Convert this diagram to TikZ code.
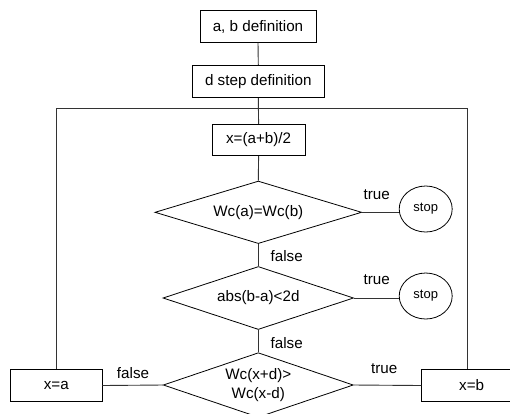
\documentclass[tikz,border=0pt]{standalone}
\usepackage{fontspec}
\setmainfont{Liberation Sans}
\usetikzlibrary{shapes.geometric}
\begin{document}
\begin{tikzpicture}[x=1pt,y=-1pt,
  every node/.style={font=\fontsize{15.2}{19.5}\selectfont},
  box/.style={draw, rectangle, inner sep=0pt, line width=0.8pt},
  dec/.style={draw, diamond, inner sep=0pt, line width=0.8pt, shape aspect=3, align=center},
  term/.style={draw, ellipse, inner sep=0pt, minimum width=53pt, minimum height=46pt, font=\fontsize{13}{15}\selectfont, line width=0.8pt},
  lbl/.style={inner sep=0pt},
  conn/.style={line width=0.9pt, draw=black!80}]
\useasboundingbox (0,0) rectangle (510,413);
\clip (0,0) rectangle (510,413);
\node[box, minimum width=116pt, minimum height=31.6pt] (ab) at (258,26.5) {a, b definition};
\node[box, minimum width=131.3pt, minimum height=32.4pt] (ds) at (258.3,81.5) {d step definition};
\node[box, minimum width=93.3pt, minimum height=31.4pt] (xm) at (258.6,140) {x=(a+b)/2};
\node[dec, minimum width=206.7pt, minimum height=62.5pt] (d1) at (258.3,212.3) {Wc(a)=Wc(b)};
\node[dec, minimum width=190.6pt, minimum height=63pt] (d2) at (258.3,298) {abs(b-a)<2d};
\node[dec, minimum width=190pt, minimum height=64.6pt] (d3) at (258.3,385) {Wc(x+d)>\\Wc(x-d)};
\node[term] (s1) at (425.7,209) {stop};
\node[term] (s2) at (425.7,296) {stop};
\node[box, minimum width=91.3pt, minimum height=32.4pt] (xa) at (56.3,385.5) {x=a};
\node[box, minimum width=100pt, minimum height=32.4pt] (xb) at (471.7,385.5) {x=b};
\coordinate (rt) at (467.7,108.7);
\node[lbl] (t1) at (376.7,195) {true};
\node[lbl] (t2) at (376.7,280) {true};
\node[lbl] (f1) at (286.7,256) {false};
\node[lbl] (f2) at (286.7,342.7) {false};
\node[lbl] (f3) at (133,372.7) {false};
\node[lbl] (t3) at (384.3,368.3) {true};
\draw[conn] (ab.south) -- (ds.north);
\draw[conn] (ds.south) -- (xm.north);
\draw[conn] (xm.south) -- (d1.north);
\draw[conn] (d1.south) -- (d2.north);
\draw[conn] (d2.south) -- (d3.north);
\draw[conn] (d1.east) -- (d1.east -| s1.west);
\draw[conn] (d2.east) -- (d2.east -| s2.west);
\draw[conn] (d3.west) -- (xa.east);
\draw[conn] (d3.east) -- (xb.west);
\draw[conn] (xa.north) -- (xa.north |- rt) -- (rt) -- (rt |- xb.north);
\end{tikzpicture}
\end{document}
